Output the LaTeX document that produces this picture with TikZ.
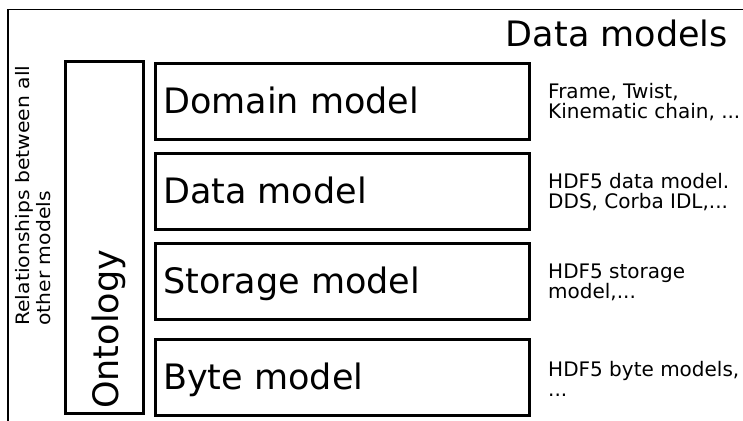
\documentclass[tikz,border=0pt]{standalone}
\usepackage{fontspec}
\setmainfont{DejaVu Sans}
\newfontfamily\relfont[FakeStretch=1.1]{DejaVu Sans}
\begin{document}
\begin{tikzpicture}[x=1pt,y=-1pt,
  box/.style={draw, line width=3pt, inner sep=0pt},
  big/.style={font=\fontsize{35}{41}\selectfont, inner sep=0pt},
  side/.style={font=\fontsize{20}{20}\selectfont, align=left, inner sep=0pt, anchor=west},
  rel/.style={font=\relfont\fontsize{18.5}{21}\selectfont, align=left, inner sep=0pt}]
\useasboundingbox (0,0) rectangle (743,420);
\clip (0,0) rectangle (743,420);
\draw[line width=1.5pt] (8,9.5) rectangle (760,440);
\node[big, anchor=base east] (title) at (728,46) {Data models};
% boxes
\node[box, minimum width=374pt, minimum height=76pt] (dom) at (342,101) {};
\node[box, minimum width=374pt, minimum height=76pt] (dat) at (342,191) {};
\node[box, minimum width=374pt, minimum height=76pt] (sto) at (342,281) {};
\node[box, minimum width=374pt, minimum height=76pt] (byt) at (342,377) {};
\node[box, minimum width=78pt, minimum height=352pt] (ont) at (104,237) {};
% box labels
\node[big, anchor=base west] (domt) at (163,113.5) {Domain model};
\node[big, anchor=base west] (datt) at (163,203.5) {Data model};
\node[big, anchor=base west] (stot) at (163,293.5) {Storage model};
\node[big, anchor=base west] (bytt) at (163,389.5) {Byte model};
\node[big, rotate=90, anchor=base west] (ontt) at (118,409) {Ontology};
\node[rel, rotate=90, anchor=north west] (relt) at (15,326) {Relationships between all\\other models};
% side notes
\node[side] (domn) at (548,102.5) {Frame, Twist,\\Kinematic chain, ...};
\node[side] (datn) at (548,192.5) {HDF5 data model.\\DDS, Corba IDL,...};
\node[side] (ston) at (548,282.5) {HDF5 storage\\model,...};
\node[side] (bytn) at (548,378.5) {HDF5 byte models,\\...};
\end{tikzpicture}
\end{document}
